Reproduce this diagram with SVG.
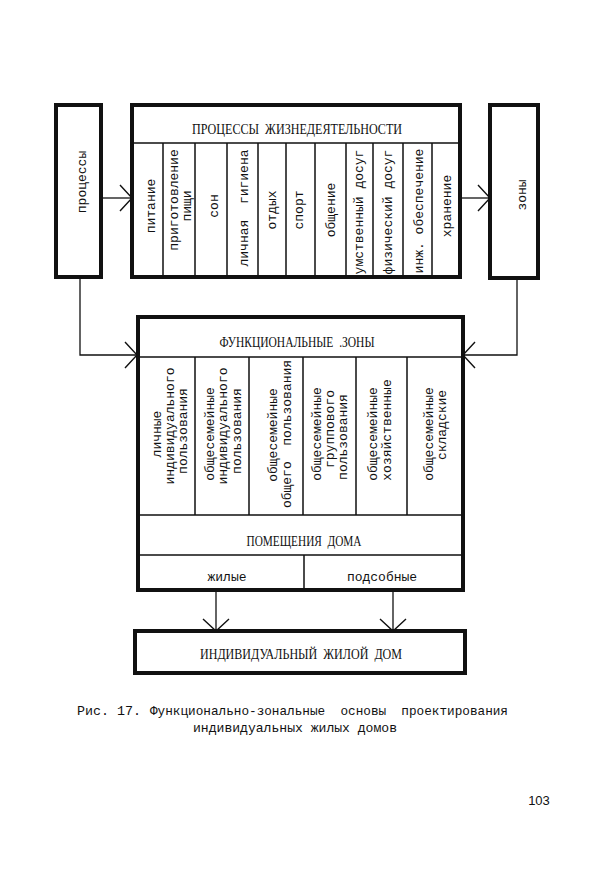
<svg xmlns="http://www.w3.org/2000/svg" width="600" height="870" viewBox="0 0 600 870" xml:space="preserve">
<style>
text{white-space:pre}
.box{fill:none;stroke:#111;stroke-width:4}
.ln{fill:none;stroke:#111;stroke-width:1.5}
.cn{fill:none;stroke:#111;stroke-width:1.3}
.t{font-family:"Liberation Mono",monospace;font-size:13px;fill:#111;text-anchor:middle;dominant-baseline:central}
.h{font-family:"Liberation Serif",serif;font-size:14px;fill:#111;text-anchor:middle;dominant-baseline:central}
.cap{font-family:"Liberation Mono",monospace;font-size:13px;fill:#111}
</style>
<defs>
<marker id="arr" markerUnits="userSpaceOnUse" markerWidth="30" markerHeight="30" refX="14" refY="15" orient="auto" viewBox="0 0 30 30">
<path d="M2,2 L14,15 L2,28" fill="none" stroke="#111" stroke-width="1.4"/>
</marker>
</defs>
<rect width="600" height="870" fill="#fff"/>

<g id="connectors">
<path class="cn" d="M101,198 H132" marker-end="url(#arr)"/>
<path class="cn" d="M460,198 H490" marker-end="url(#arr)"/>
<path class="cn" d="M80,277 V355 H137" marker-end="url(#arr)"/>
<path class="cn" d="M517,278 V355 H463" marker-end="url(#arr)"/>
<path class="cn" d="M216,590 V631" marker-end="url(#arr)"/>
<path class="cn" d="M393,590 V631" marker-end="url(#arr)"/>
</g>

<g id="processes">
<rect class="box" x="56" y="105" width="45" height="172"/>
<text class="t" transform="translate(82 182) rotate(-90)">процессы</text>
</g>

<g id="zones">
<rect class="box" x="490" y="105" width="48" height="173"/>
<text class="t" transform="translate(522 195) rotate(-90)">зоны</text>
</g>

<g id="life-processes">
<rect class="box" x="132" y="105" width="328" height="172"/>
<path class="ln" d="M132,143 H460 M163,143 V277 M195,143 V277 M227,143 V277 M258,143 V277 M286,143 V277 M315,143 V277 M346,143 V277 M373,143 V277 M403,143 V277 M432,143 V277"/>
<text class="h" x="297" y="129" textLength="210" lengthAdjust="spacingAndGlyphs">ПРОЦЕССЫ  ЖИЗНЕДЕЯТЕЛЬНОСТИ</text>
<text class="t" transform="translate(151 206) rotate(-90)">питание</text>
<text class="t" transform="translate(174 200) rotate(-90)">приготовление</text>
<text class="t" transform="translate(187 206) rotate(-90)">пищи</text>
<text class="t" transform="translate(214 206) rotate(-90)">сон</text>
<text class="t" transform="translate(244 208) rotate(-90)">личная  гигиена</text>
<text class="t" transform="translate(272 210) rotate(-90)">отдых</text>
<text class="t" transform="translate(299 210) rotate(-90)">спорт</text>
<text class="t" transform="translate(331 210) rotate(-90)">общение</text>
<text class="t" transform="translate(359 212) rotate(-90)">умственный досуг</text>
<text class="t" transform="translate(388 212) rotate(-90)">физический досуг</text>
<text class="t" transform="translate(419 211) rotate(-90)">инж. обеспечение</text>
<text class="t" transform="translate(447 206) rotate(-90)">хранение</text>
</g>

<g id="functional-zones">
<rect class="box" x="138" y="317" width="325" height="273"/>
<path class="ln" d="M138,357 H463 M195,357 V515 M249,357 V515 M303,357 V515 M356,357 V515 M407,357 V515 M138,515 H463 M138,555 H463 M304,555 V590"/>
<text class="h" x="297" y="342" textLength="155" lengthAdjust="spacingAndGlyphs">ФУНКЦИОНАЛЬНЫЕ  .ЗОНЫ</text>
<text class="t" transform="translate(157 434) rotate(-90)">личные</text>
<text class="t" transform="translate(170 426) rotate(-90)">индивидуального</text>
<text class="t" transform="translate(183 431) rotate(-90)">пользования</text>
<text class="t" transform="translate(210 434) rotate(-90)">общесемейные</text>
<text class="t" transform="translate(223 426) rotate(-90)">индивидуального</text>
<text class="t" transform="translate(237 431) rotate(-90)">пользования</text>
<text class="t" transform="translate(273 435) rotate(-90)">общесемейные</text>
<text class="t" transform="translate(287 434) rotate(-90)">общего  пользования</text>
<text class="t" transform="translate(317 434) rotate(-90)">общесемейные</text>
<text class="t" transform="translate(330 429) rotate(-90)">группового</text>
<text class="t" transform="translate(343 437) rotate(-90)">пользования</text>
<text class="t" transform="translate(373 434) rotate(-90)">общесемейные</text>
<text class="t" transform="translate(387 430) rotate(-90)">хозяйственные</text>
<text class="t" transform="translate(429 434) rotate(-90)">общесемейные</text>
<text class="t" transform="translate(442 425) rotate(-90)">складские</text>
<text class="h" x="304" y="541" textLength="115" lengthAdjust="spacingAndGlyphs">ПОМЕЩЕНИЯ  ДОМА</text>
<text class="t" x="227" y="577">жилые</text>
<text class="t" x="382" y="577">подсобные</text>
</g>

<g id="house">
<rect class="box" x="135" y="631" width="330" height="42"/>
<text class="h" x="301" y="654" textLength="202" lengthAdjust="spacingAndGlyphs">ИНДИВИДУАЛЬНЫЙ  ЖИЛОЙ  ДОМ</text>
</g>

<g id="caption">
<text class="cap" x="77" y="715" font-size="15" textLength="64" lengthAdjust="spacingAndGlyphs">Рис. 17.</text>
<text class="cap" x="150" y="715" textLength="358" lengthAdjust="spacingAndGlyphs">Функционально-зональные  основы  проектирования</text>
<text class="cap" x="193" y="732" textLength="204" lengthAdjust="spacingAndGlyphs">индивидуальных жилых домов</text>
<text x="539" y="805" font-family="Liberation Sans, sans-serif" font-size="13" text-anchor="middle" fill="#111">103</text>
</g>
</svg>
